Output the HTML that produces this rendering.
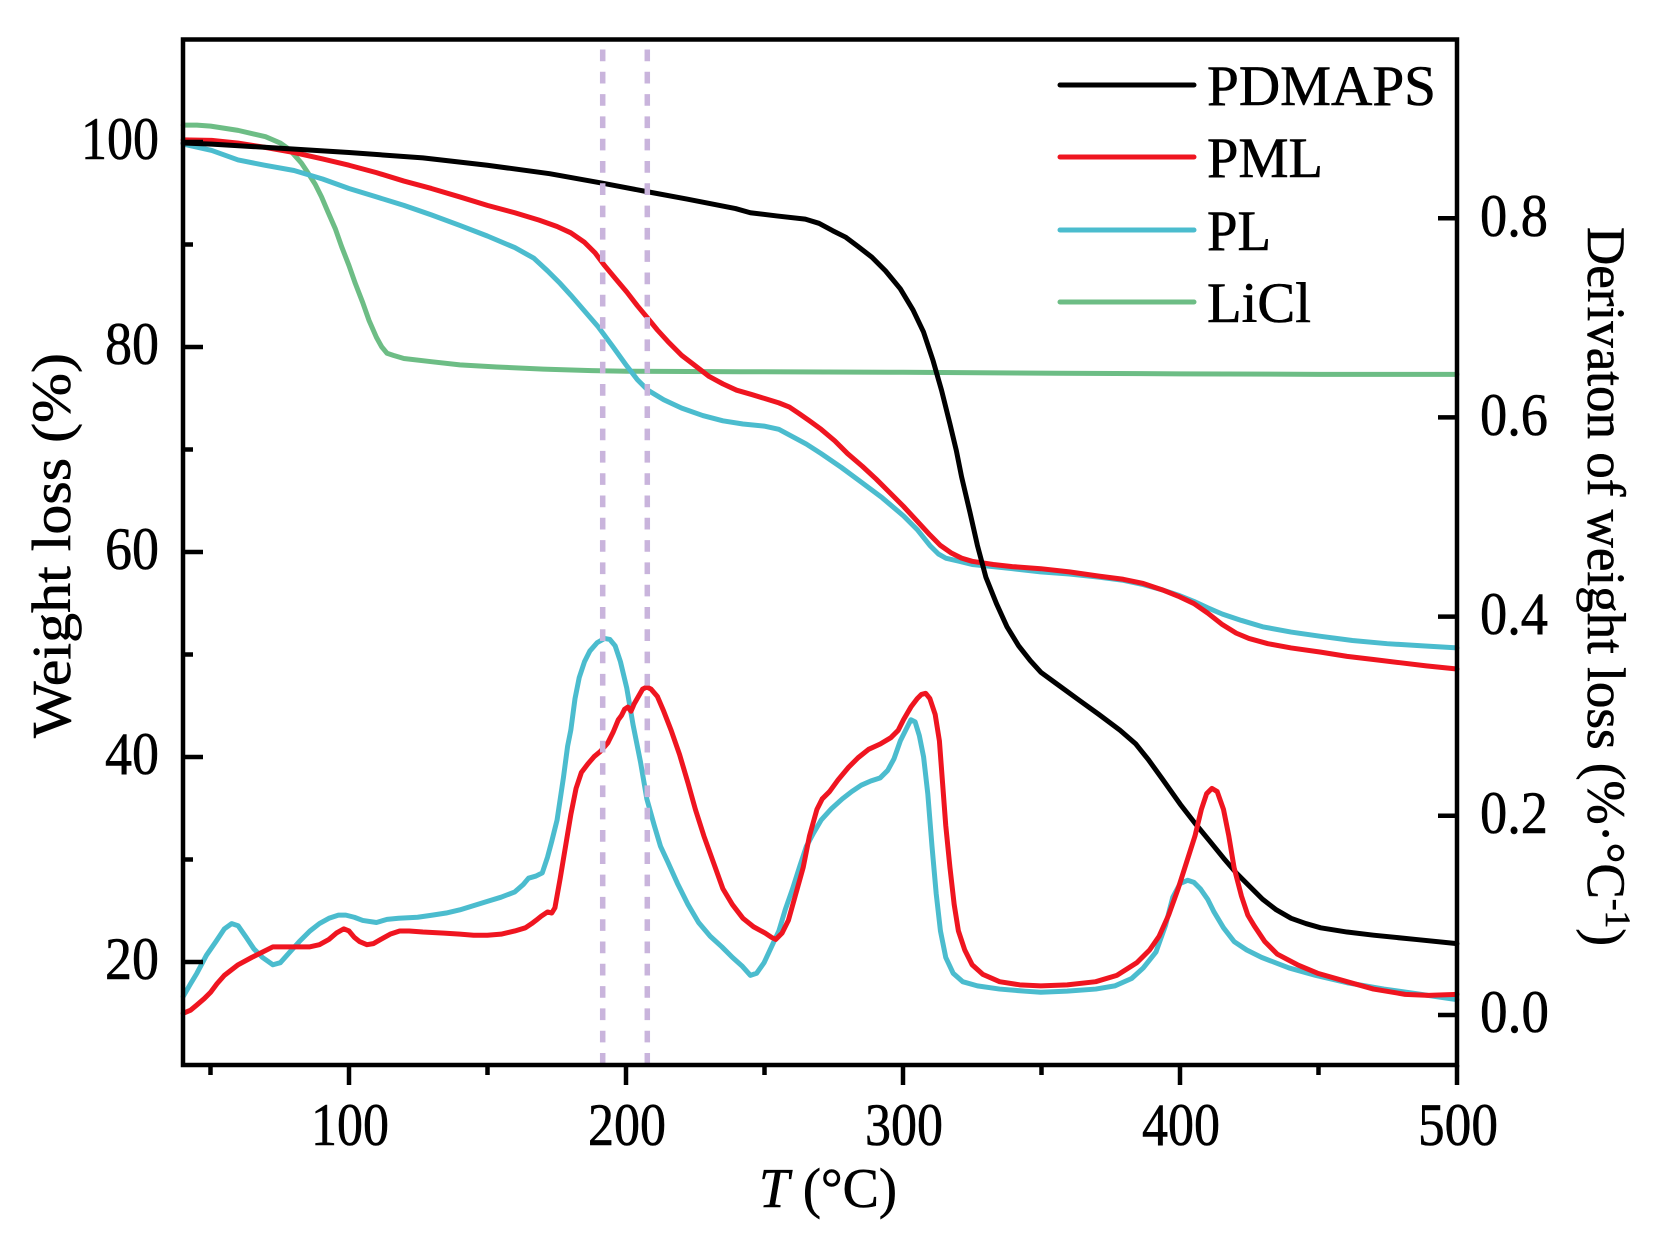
<!DOCTYPE html>
<html>
<head>
<meta charset="utf-8">
<style>
html,body{margin:0;padding:0;background:#fff;}
svg{display:block;}
text{font-family:"Liberation Serif","Times New Roman",serif;fill:#000;stroke:#000;stroke-width:0.6;}
</style>
</head>
<body>
<svg width="1658" height="1244" viewBox="0 0 1658 1244" xmlns="http://www.w3.org/2000/svg">
<rect x="0" y="0" width="1658" height="1244" fill="#fff"/>

<g transform="matrix(1.0562 0 0 1.0562 0.44 1.52)" fill="none" stroke-linejoin="round" stroke-linecap="round">
  <polyline vector-effect="non-scaling-stroke" stroke="#6dbd85" stroke-width="5" points="173,117 186,117 199,118 212,120 225,122 238,125 251,128 265,134 272,139 278,145 285,153 291,162 298,173 304,185 310,199 317,215 323,232 330,250 336,267 343,285 349,302 356,318 361,327 366,333 372,335 382,338 408,341 435,344 470,346 514,348 560,349.5 593,350 700,350.5 855,351 1000,352 1117,352.5 1250,353 1379,353"/>
  <polyline vector-effect="non-scaling-stroke" stroke="#4bbcce" stroke-width="5" points="173,135 200,141 225,150 250,155 278,160 305,168 330,177 356,185 382,193 408,202 435,212 461,222 487,233 505,243 518,255 530,267 540,278 553,293 566,308 580,327 593,345 603,358 613,368 628,377 645,385 665,392 684,397 703,400 723,402 737,405 750,412 763,419 777,428 796,441 815,455 835,470 855,487 868,500 880,515 888,523 895,527 908,530 920,533 940,535 958,537 985,540 1012,542 1040,545 1063,548 1082,552 1100,557 1115,562 1130,568 1143,574 1157,580 1175,586 1195,592 1222,597 1250,601 1280,605 1313,608 1345,610 1379,612"/>
  <polyline vector-effect="non-scaling-stroke" stroke="#ef1520" stroke-width="5" points="173,131 200,131.5 225,134 250,138 278,143 305,149 330,155 356,162 382,170 408,177 435,185 461,193 487,200 510,207 527,213 540,219 553,228 563,238 572,250 582,262 593,275 603,288 613,300 622,311 632,322 645,335 658,345 671,355 684,362 697,368 711,372 724,376 737,380 747,384 756,390 766,397 777,405 790,416 802,428 816,440 829,452 842,465 855,478 868,492 880,505 890,515 900,522 910,527 920,530 940,533 958,535 985,537 1012,540 1040,544 1063,547 1082,551 1100,557 1115,563 1130,570 1143,579 1157,590 1170,598 1182,603 1200,608 1222,612 1250,616 1275,620 1300,623 1325,626 1350,629 1379,632"/>
  <polyline vector-effect="non-scaling-stroke" stroke="#000" stroke-width="5" points="173,134 200,135 250,138 330,143 400,148 461,155 520,163 570,172 612,180 650,187 696,196 710,200 735,203 762,206 775,210 788,217 800,223 812,232 825,242 838,255 852,272 864,292 874,313 883,340 891,368 899,400 905,425 910,450 918,484 925,515 933,545 943,570 953,592 964,610 975,624 985,635 1000,646 1022,662 1040,675 1060,690 1075,703 1087,718 1100,736 1117,760 1131,778 1145,795 1158,811 1170,825 1183,838 1195,850 1208,860 1222,868 1236,873 1250,877 1275,881 1300,884 1340,888 1379,892"/>
  <polyline vector-effect="non-scaling-stroke" stroke="#4bbcce" stroke-width="5" points="173,942 180,930 186,920 195,903 204,890 212,878 219,873 225,875 232,885 240,897 248,905 258,912 265,910 274,900 283,890 293,880 302,873 311,868 320,865 327,865 335,867 343,870 356,872 366,869 377,868 395,867 409,865 422,863 435,860 448,856 461,852 474,848 487,843 495,836 500,830 507,828 513,825 518,810 522,795 527,775 533,735 537,705 540,690 544,660 548,640 553,625 558,615 565,607 572,603 577,604 582,610 587,625 593,650 599,685 606,720 612,755 619,780 625,800 632,815 641,835 651,855 661,872 672,885 683,895 693,905 702,913 710,922 716,920 723,910 730,895 737,880 743,860 750,840 757,818 763,800 770,787 777,775 787,764 797,755 806,748 815,742 824,738 833,735 840,728 846,717 852,700 858,688 862,680 866,682 870,695 874,715 878,750 882,800 886,845 890,880 895,905 902,920 911,928 925,932 946,935 970,937 985,938 1010,937 1037,935 1055,932 1071,925 1082,915 1094,900 1103,875 1110,848 1117,835 1124,832 1130,834 1136,840 1143,850 1149,862 1158,877 1168,890 1180,898 1194,905 1220,915 1245,922 1275,929 1310,935 1345,940 1379,945"/>
  <polyline vector-effect="non-scaling-stroke" stroke="#ef1520" stroke-width="5" points="173,958 180,955 186,950 193,944 199,938 205,930 212,922 225,912 238,905 248,900 258,895 270,895 283,895 293,895 302,893 311,888 318,882 325,878 330,880 335,886 340,890 347,893 353,892 360,888 369,883 378,880 387,880 400,881 420,882 435,883 448,884 461,884 474,883 487,880 497,877 503,873 507,870 512,866 518,862 522,863 525,858 530,830 535,800 540,770 545,745 550,730 556,722 562,715 568,710 575,702 580,692 585,680 588,676 591,670 594,668 597,672 600,665 604,658 608,651 612,649 616,651 622,658 628,672 635,690 643,713 651,740 658,765 666,790 675,815 684,840 693,855 703,868 713,876 724,882 730,886 734,888 740,882 746,870 753,845 760,820 766,790 773,765 778,755 785,748 793,737 803,725 812,716 822,708 833,703 843,697 850,690 855,680 862,668 868,660 872,656 876,655 880,660 885,675 889,700 892,740 895,780 899,820 903,855 907,880 913,898 920,912 930,921 946,928 965,931 985,932 1010,931 1037,928 1057,922 1076,910 1088,898 1097,885 1106,865 1115,840 1123,815 1131,790 1137,765 1142,750 1147,745 1152,748 1158,765 1163,790 1168,820 1175,847 1181,865 1187,875 1197,890 1209,902 1228,912 1247,920 1275,928 1300,935 1330,940 1352,941 1379,940"/>
</g>

<line x1="602.7" y1="49.5" x2="602.7" y2="1063" stroke="#c9b4dc" stroke-width="5.5" stroke-dasharray="11.7 10.6"/>
<line x1="647.3" y1="49.5" x2="647.3" y2="1063" stroke="#c9b4dc" stroke-width="5.5" stroke-dasharray="11.7 10.6"/>

<rect x="183" y="39.5" width="1274" height="1025.5" fill="none" stroke="#000" stroke-width="4.5"/>

<g stroke="#000" stroke-width="4.5">
  <line x1="349" y1="1065" x2="349" y2="1085"/>
  <line x1="626" y1="1065" x2="626" y2="1085"/>
  <line x1="903" y1="1065" x2="903" y2="1085"/>
  <line x1="1180" y1="1065" x2="1180" y2="1085"/>
  <line x1="1457" y1="1065" x2="1457" y2="1085"/>
  <line x1="210.5" y1="1065" x2="210.5" y2="1075"/>
  <line x1="487.5" y1="1065" x2="487.5" y2="1075"/>
  <line x1="764.5" y1="1065" x2="764.5" y2="1075"/>
  <line x1="1041.5" y1="1065" x2="1041.5" y2="1075"/>
  <line x1="1318.5" y1="1065" x2="1318.5" y2="1075"/>
  <line x1="183" y1="142" x2="203" y2="142"/>
  <line x1="183" y1="347" x2="203" y2="347"/>
  <line x1="183" y1="552" x2="203" y2="552"/>
  <line x1="183" y1="757" x2="203" y2="757"/>
  <line x1="183" y1="962" x2="203" y2="962"/>
  <line x1="183" y1="244.5" x2="193" y2="244.5"/>
  <line x1="183" y1="449.5" x2="193" y2="449.5"/>
  <line x1="183" y1="654.5" x2="193" y2="654.5"/>
  <line x1="183" y1="859.5" x2="193" y2="859.5"/>
  <line x1="1438" y1="1015" x2="1457" y2="1015"/>
  <line x1="1438" y1="815.8" x2="1457" y2="815.8"/>
  <line x1="1438" y1="616.6" x2="1457" y2="616.6"/>
  <line x1="1438" y1="417.4" x2="1457" y2="417.4"/>
  <line x1="1438" y1="218.2" x2="1457" y2="218.2"/>
</g>

<g font-size="60" text-anchor="end">
  <text x="159" y="159" textLength="78" lengthAdjust="spacingAndGlyphs">100</text>
  <text x="159" y="364" textLength="54" lengthAdjust="spacingAndGlyphs">80</text>
  <text x="159" y="569" textLength="54" lengthAdjust="spacingAndGlyphs">60</text>
  <text x="159" y="774" textLength="54" lengthAdjust="spacingAndGlyphs">40</text>
  <text x="159" y="979" textLength="54" lengthAdjust="spacingAndGlyphs">20</text>
</g>

<g font-size="60" text-anchor="middle">
  <text x="350" y="1145" textLength="78" lengthAdjust="spacingAndGlyphs">100</text>
  <text x="627" y="1145" textLength="78" lengthAdjust="spacingAndGlyphs">200</text>
  <text x="904" y="1145" textLength="78" lengthAdjust="spacingAndGlyphs">300</text>
  <text x="1181" y="1145" textLength="78" lengthAdjust="spacingAndGlyphs">400</text>
  <text x="1458" y="1145" textLength="80" lengthAdjust="spacingAndGlyphs">500</text>
</g>

<g font-size="60">
  <text x="1480" y="1032" textLength="69" lengthAdjust="spacingAndGlyphs">0.0</text>
  <text x="1480" y="833" textLength="68" lengthAdjust="spacingAndGlyphs">0.2</text>
  <text x="1480" y="634" textLength="68" lengthAdjust="spacingAndGlyphs">0.4</text>
  <text x="1480" y="435" textLength="68" lengthAdjust="spacingAndGlyphs">0.6</text>
  <text x="1480" y="236" textLength="68" lengthAdjust="spacingAndGlyphs">0.8</text>
</g>

<g stroke-width="5" stroke-linecap="round">
  <line x1="1060" y1="85" x2="1194" y2="85" stroke="#000"/>
  <line x1="1060" y1="157" x2="1194" y2="157" stroke="#ef1520"/>
  <line x1="1060" y1="230" x2="1194" y2="230" stroke="#4bbcce"/>
  <line x1="1060" y1="302" x2="1194" y2="302" stroke="#6dbd85"/>
</g>
<g font-size="57">
  <text x="1207" y="105" textLength="229" lengthAdjust="spacingAndGlyphs">PDMAPS</text>
  <text x="1207" y="177" textLength="116" lengthAdjust="spacingAndGlyphs">PML</text>
  <text x="1207" y="250" textLength="64" lengthAdjust="spacingAndGlyphs">PL</text>
  <text x="1207" y="322" textLength="104" lengthAdjust="spacingAndGlyphs">LiCl</text>
</g>

<text x="759" y="1207" font-size="56" textLength="138" lengthAdjust="spacingAndGlyphs"><tspan font-style="italic">T</tspan> (°C)</text>
<text transform="translate(70,738) rotate(-90)" x="0" y="0" font-size="55" textLength="385" lengthAdjust="spacingAndGlyphs">Weight loss (%)</text>
<text transform="translate(1588,227) rotate(90)" x="0" y="0" font-size="54" textLength="719" lengthAdjust="spacingAndGlyphs">Derivaton of weight loss (%·°C<tspan dy="-18" font-size="36">-1</tspan><tspan dy="18" font-size="54">)</tspan></text>
</svg>
</body>
</html>
